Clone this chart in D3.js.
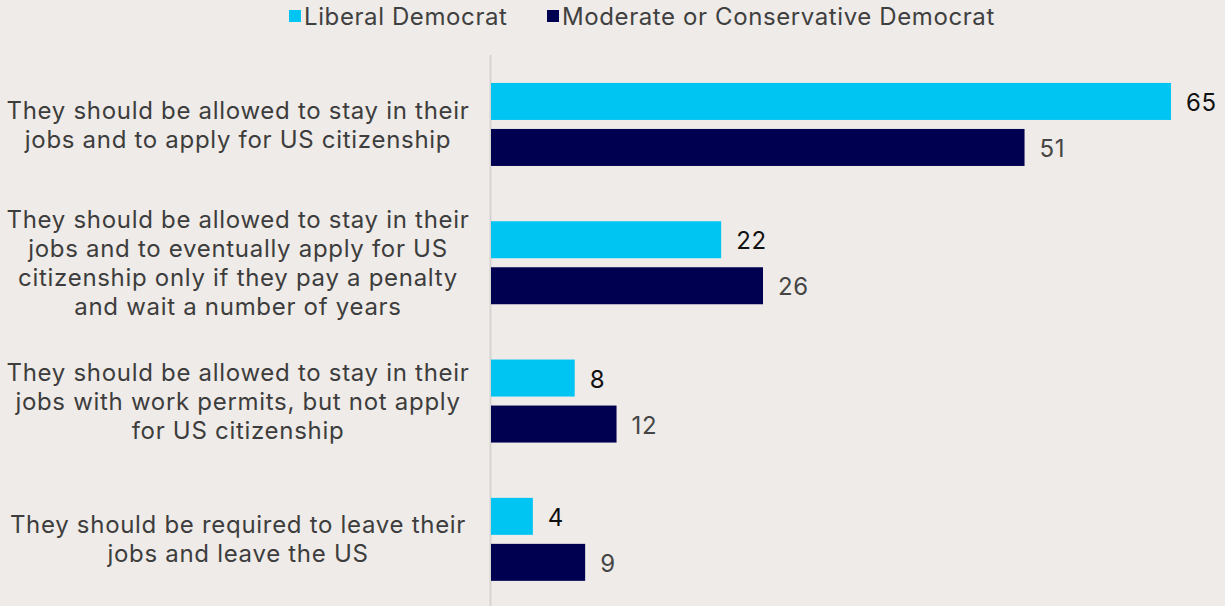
<!DOCTYPE html>
<html>
<head>
<meta charset="utf-8">
<script src="https://cdn.jsdelivr.net/npm/d3@7"></script>
<style>
  html, body { margin: 0; padding: 0; background: #efebe8; }
  svg { display: block; font-family: Inter, "Noto Sans", sans-serif; }
</style>
</head>
<body>
<svg id="chart" width="1225" height="606"></svg>
<script>
// Survey answers (category labels, one array of lines per answer)
const categories = [
  ["They should be allowed to stay in their", "jobs and to apply for US citizenship"],
  ["They should be allowed to stay in their", "jobs and to eventually apply for US", "citizenship only if they pay a penalty", "and wait a number of years"],
  ["They should be allowed to stay in their", "jobs with work permits, but not apply", "for US citizenship"],
  ["They should be required to leave their", "jobs and leave the US"]
];
const seriesNames = ["Liberal Democrat", "Moderate or Conservative Democrat"];
const liberal = [65, 22, 8, 4];
const moderate = [51, 26, 12, 9];

const colors = ["#00c5f2", "#000050"];
const labelColors = ["#111111", "#454545"];

const svg = d3.select("#chart");
const W = 1225, H = 606;
const margin = { top: 55, left: 491 };

const x = d3.scaleLinear().domain([0, 65]).range([margin.left, 1171]);
const y = d3.scaleBand().domain(d3.range(categories.length)).range([55.3, 608.5]);
const inner = d3.scaleBand().domain([0, 1]).range([0, 83]).paddingInner(9 / 46);

// vertical axis line
svg.append("line")
  .attr("x1", margin.left - 0.5).attr("x2", margin.left - 0.5)
  .attr("y1", 55).attr("y2", H)
  .attr("stroke", "#d6d3d1").attr("stroke-width", 2);

const series = [liberal, moderate];
series.forEach((vals, s) => {
  const g = svg.append("g");
  g.selectAll("rect").data(vals).join("rect")
    .attr("x", x(0))
    .attr("y", (d, i) => y(i) + (y.bandwidth() - 83) / 2 + inner(s))
    .attr("width", d => x(d) - x(0))
    .attr("height", inner.bandwidth())
    .attr("fill", colors[s]);
  g.selectAll("text").data(vals).join("text")
    .attr("x", d => x(d) + 15)
    .attr("y", (d, i) => y(i) + (y.bandwidth() - 83) / 2 + inner(s) + inner.bandwidth() / 2)
    .attr("dy", "0.4em")
    .attr("font-size", 24)
    .attr("letter-spacing", 0.6)
    .attr("fill", labelColors[s])
    .text(d => d);
});

// category labels, centred in the left column
const catG = svg.append("g");
categories.forEach((lines, i) => {
  const cy = y(i) + y.bandwidth() / 2;
  const lh = 29;
  const t = catG.append("text")
    .attr("text-anchor", "middle")
    .attr("font-size", 24)
    .attr("letter-spacing", 0.7)
    .attr("fill", "#3d3d3d");
  lines.forEach((ln, k) => {
    t.append("tspan")
      .attr("x", 238)
      .attr("y", cy + (k - (lines.length - 1) / 2) * lh)
      .attr("dy", "0.36em")
      .text(ln);
  });
});

// legend
const legend = svg.append("g");
const legendX = [289, 547];
seriesNames.forEach((name, s) => {
  legend.append("rect")
    .attr("x", legendX[s]).attr("y", 10)
    .attr("width", 12).attr("height", 12)
    .attr("fill", colors[s]);
  legend.append("text")
    .attr("x", legendX[s] + 15).attr("y", 16)
    .attr("dy", "0.36em")
    .attr("font-size", 24)
    .attr("letter-spacing", 0.6)
    .attr("fill", "#404040")
    .text(name);
});
</script>
</body>
</html>
